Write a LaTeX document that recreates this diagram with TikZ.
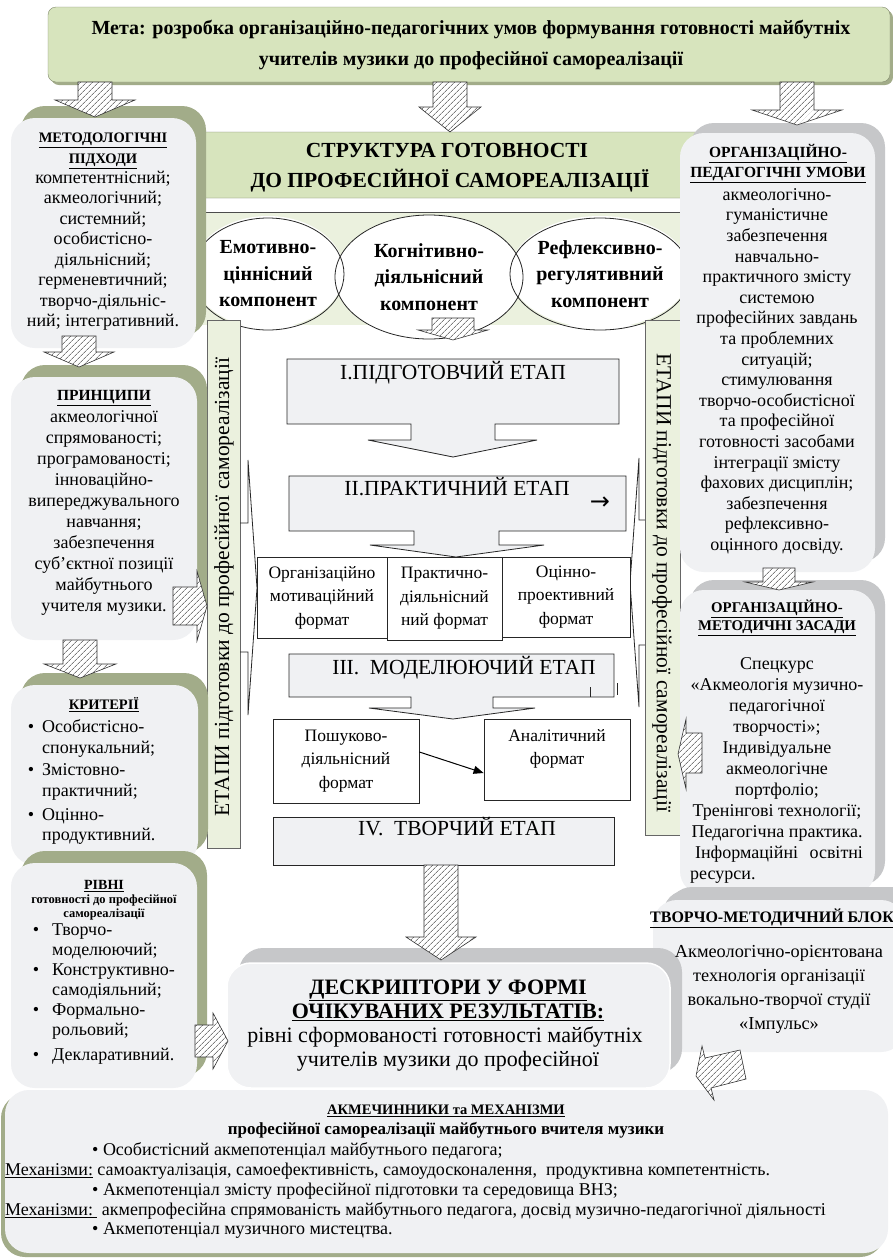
\documentclass[tikz,border=0pt]{standalone}
\usepackage{fontspec}
\setmainfont{Liberation Serif}
\newfontfamily\symfont{DejaVu Sans}
\usetikzlibrary{positioning,shapes.geometric,shadows,patterns.meta,arrows.meta}

\definecolor{metagreen}{HTML}{D7E4BD}
\definecolor{panelgreen}{HTML}{EBF1DE}
\definecolor{boxgray}{HTML}{F0F1F3}
\definecolor{olivesh}{HTML}{A2AC89}
\definecolor{graysh}{HTML}{C6C7C9}

\begin{document}
\begin{tikzpicture}[x=1pt, y=-1pt,
        txt/.style={font=\fontsize{18}{20.5}\selectfont, anchor=mid, inner sep=0pt},
        ttl/.style={font=\bfseries\fontsize{14.5}{16}\selectfont, anchor=mid, inner sep=0pt},
        stagetxt/.style={font=\fontsize{21.5}{24}\selectfont, anchor=mid, inner sep=0pt},
        bottxt/.style={font=\fontsize{18}{19}\selectfont, anchor=mid west, inner sep=0pt},
        leftbox/.style={rounded corners=24pt, fill=boxgray, inner sep=0pt,
            general shadow={fill=olivesh, shadow xshift=10pt, shadow yshift=12pt}},
        rightbox/.style={rounded corners=24pt, fill=boxgray, inner sep=0pt,
            general shadow={fill=graysh, shadow xshift=10pt, shadow yshift=10pt}},
        stagebox/.style={draw=black!85, fill=boxgray, line width=0.8pt},
        fmtbox/.style={draw=black!85, fill=white, line width=0.8pt, inner sep=0pt, align=center,
            font=\fontsize{17.5}{23.5}\selectfont},
        bar/.style={draw=black!60, fill=panelgreen, line width=0.8pt, inner sep=0pt},
        comp/.style={ellipse, draw=black!85, line width=0.8pt, align=center, inner sep=0pt,
            font=\bfseries\fontsize{20}{26.5}\selectfont},
        hatch/.style={draw=black!80, line width=0.6pt, preaction={fill=white},
            pattern={Lines[angle=45,distance=4pt,line width=0.5pt]}, pattern color=black!80},
    ]

    \useasboundingbox[fill=white] (0,0) rectangle (893,1259);

    % Goal
    \node[draw=olivesh!80!black, fill=metagreen, rounded corners=8pt, inner sep=0pt,
        minimum width=842pt, minimum height=75pt,
        general shadow={fill=olivesh, shadow xshift=3pt, shadow yshift=-3pt}] (meta) at (469,44.5) {};
    \node[font=\bfseries\fontsize{20}{22}\selectfont, anchor=mid, inner sep=0pt] (meta-1) at (471,32)
        {Мета: розробка організаційно-педагогічних умов формування готовності майбутніх};
    \node[font=\bfseries\fontsize{20}{22}\selectfont, anchor=mid, inner sep=0pt] (meta-2) at (471,63)
        {учителів музики до професійної самореалізації};

    % Structure of readiness
    \node[draw=olivesh!70!black, fill=metagreen, rounded corners=5pt, inner sep=0pt,
        minimum width=512pt, minimum height=66pt] (struct) at (450,165) {};
    \node[font=\bfseries\fontsize{21.5}{24}\selectfont, anchor=mid, inner sep=0pt] (struct-1) at (447,155) {СТРУКТУРА ГОТОВНОСТІ};
    \node[font=\bfseries\fontsize{21.5}{24}\selectfont, anchor=mid, inner sep=0pt] (struct-2) at (450,185) {ДО ПРОФЕСІЙНОЇ САМОРЕАЛІЗАЦІЇ};
    \node[fill=panelgreen, inner sep=0pt, minimum width=486pt, minimum height=112pt] (panel) at (437,269) {};
    \draw[black!70, line width=0.8pt] (panel.north west) -- (panel.north east);

    % Components
    \foreach \x/\y/\a/\b in {268/272/76/56, 429/277/94/62, 600/272/90/56}
    \fill[white] (\x,\y) ellipse [x radius=\a pt, y radius=\b pt];
    \node[comp, minimum width=152pt, minimum height=112pt] (emo) at (268,274) {Емотивно-\\ціннісний\\компонент};
    \node[comp, minimum width=188pt, minimum height=124pt] (kog) at (429,277) {Когнітивно-\\діяльнісний\\компонент};
    \node[comp, minimum width=180pt, minimum height=112pt] (ref) at (600,274) {Рефлексивно-\\регулятивний\\компонент};

    % Stage bars
    \node[bar, minimum width=33pt, minimum height=528pt] (barL) at (223.5,584) {};
    \node[bar, minimum width=35pt, minimum height=515pt] (barR) at (662.5,577.5) {};
    \node[rotate=90, inner sep=0pt, font=\fontsize{21.5}{22}\selectfont] (barL-t) at (224,587)
        {ЕТАПИ підготовки до професійної самореалізації};
    \node[rotate=-90, inner sep=0pt, font=\fontsize{21.5}{22}\selectfont] (barR-t) at (662,583)
        {ЕТАПИ підготовки до професійної самореалізації};
    \draw[black!85, line width=0.8pt] (240,523) -- (248,523) -- (248,460) -- (257,588) -- (248,715) -- (248,652) -- (240,652);
    \draw[black!85, line width=0.8pt] (645,520) -- (639,520) -- (639,458) -- (630,583) -- (639,707) -- (639,645) -- (645,645);

    % Stages
    \foreach \L/\R/\T/\B/\sL/\sR/\hb/\hL/\hR/\tx/\ty in {
        287/619/359/424/411/495/440/368/537/453/457,
        289/626/476/531/414/499/545/370/544/456/557,
        289/614/654/697/411/493/708/369/535/453/719}
    \path[stagebox] (\L,\T) -- (\R,\T) -- (\R,\B) -- (\sR,\B) -- (\sR,\hb) -- (\hR,\hb) -- (\tx,\ty)
        -- (\hL,\hb) -- (\sL,\hb) -- (\sL,\B) -- (\L,\B) -- cycle;
    \node[stagetxt] (etap1) at (453,377) {І.ПІДГОТОВЧИЙ ЕТАП};
    \node[stagetxt] (etap2) at (457,493) {ІІ.ПРАКТИЧНИЙ ЕТАП};
    \node[inner sep=0pt, font=\symfont\fontsize{24}{24}\selectfont] (etap2-arr) at (600,503) {→};
    \node[stagetxt] (etap3) at (464,672) {ІІІ.\ \ МОДЕЛЮЮЧИЙ ЕТАП};
    \draw[black!85, line width=0.8pt] (590,687) -- (590,697);
    \draw[black!85, line width=0.8pt] (617,683) -- (617,695);
    \node[stagebox, inner sep=0pt, minimum width=341pt, minimum height=48pt] (etap4) at (443.5,841) {};
    \node[stagetxt] (etap4-t) at (457,833) {IV.\ \ ТВОРЧИЙ ЕТАП};

    % Formats
    \node[fmtbox, minimum width=130pt, minimum height=81pt] (fmt1) at (322,597.5) {Організаційно\\мотиваційний\\формат};
    \node[fmtbox, minimum width=115pt, minimum height=83pt] (fmt2) at (444.5,598.5) {Практично-\\діяльнісний\\ний формат};
    \node[fmtbox, minimum width=128pt, minimum height=80pt] (fmt3) at (566,597) {Оцінно-\\проективний\\формат};
    \node[fmtbox, minimum width=146pt, minimum height=84pt] (poshuk) at (346,761) {Пошуково-\\діяльнісний\\формат};
    \node[fmtbox, minimum width=146pt, minimum height=81pt] (analit) at (557,759.5) {};
    \node[inner sep=0pt, align=center, font=\fontsize{17.5}{23.5}\selectfont] (analit-t) at (557,749) {Аналітичний\\формат};
    \draw[-{Triangle[length=10pt,width=8pt]}, line width=1pt] ([yshift=9pt]poshuk.east) -- ([yshift=-13.5pt]analit.west);

    % Left column
    \node[leftbox, minimum width=185pt, minimum height=230pt] (pidh) at (103.5,233) {};
    \node[leftbox, minimum width=186pt, minimum height=263pt] (pryn) at (104,508.5) {};
    \node[leftbox, minimum width=187pt, minimum height=180pt] (kryt) at (104.5,775) {};
    \node[leftbox, minimum width=186pt, minimum height=225pt] (rivni) at (104,975.5) {};

    \node[ttl] (pidh-t1) at (103,140) {\underline{МЕТОДОЛОГІЧНІ}};
    \node[ttl] (pidh-t2) at (103,161) {\underline{ПІДХОДИ}};
    \foreach \t [count=\i from 0] in {компетентнісний;, акмеологічний;, системний;, особистісно-,
        діяльнісний;, герменевтичний;, творчо-діяльніс-, {ний; інтегративний.}}
    \node[txt] (pidh-\i) at (103,181+20.5*\i) {\t};

    \node[ttl, font=\bfseries\fontsize{15.5}{16}\selectfont] (pryn-t) at (104,398) {\underline{ПРИНЦИПИ}};
    \foreach \t [count=\i from 0] in {акмеологічної, спрямованості;, програмованості;, інноваційно-,
        випереджувального, навчання;, забезпечення, суб’єктної позиції, майбутнього, учителя музики.}
    \node[txt] (pryn-\i) at (104,420+21*\i) {\t};

    \node[ttl] (kryt-t) at (104,707) {\underline{КРИТЕРІЇ}};
    \foreach \t/\y [count=\i] in {Особистісно-/730, спонукальний;/751, Змістовно-/773,
        практичний;/794, Оцінно-/818, продуктивний./838}
    \node[txt, anchor=mid west] (kryt-\i) at (42,\y) {\t};
    \foreach \y [count=\i] in {730,773,818}
    \node[txt] (kryt-b\i) at (31,\y) {•};

    \node[ttl, font=\bfseries\fontsize{14}{16}\selectfont] (rivni-t) at (104,887) {\underline{РІВНІ}};
    \node[ttl, font=\bfseries\fontsize{12.5}{14}\selectfont] (rivni-t2) at (104,901) {готовності до професійної};
    \node[ttl, font=\bfseries\fontsize{12.5}{14}\selectfont] (rivni-t3) at (104,915) {самореалізації};
    \foreach \t/\y [count=\i] in {Творчо-/933, моделюючий;/953, Конструктивно-/973,
        самодіяльний;/993, Формально-/1013, рольовий;/1033, Декларативний./1058}
    \node[txt, anchor=mid west] (rivni-\i) at (52,\y) {\t};
    \foreach \y [count=\i] in {933,973,1013,1058}
    \node[txt] (rivni-b\i) at (36,\y) {•};

    % Right column
    \node[rightbox, minimum width=195pt, minimum height=439pt] (umovy) at (777.5,352.5) {};
    \node[rightbox, minimum width=195pt, minimum height=305pt] (zasady) at (777.5,742.5) {};
    \node[rightbox, minimum width=252pt, minimum height=152pt,
        general shadow={fill=graysh, shadow xshift=15pt, shadow yshift=13pt}] (blok) at (779,976) {};

    \node[ttl, font=\bfseries\fontsize{15.5}{16}\selectfont] (umovy-t1) at (778,155) {\underline{ОРГАНІЗАЦІЙНО-}};
    \node[ttl, font=\bfseries\fontsize{15.5}{16}\selectfont] (umovy-t2) at (778,175) {\underline{ПЕДАГОГІЧНІ УМОВИ}};
    \foreach \t [count=\i from 0] in {акмеологічно-, гуманістичне, забезпечення, навчально-,
        практичного змісту, системою, професійних завдань, та проблемних, ситуацій;, стимулювання,
        творчо-особистісної, та професійної, готовності засобами, інтеграції змісту,
        фахових дисциплін;, забезпечення, рефлексивно-, оцінного досвіду.}
    \node[txt] (umovy-\i) at (777,198+20.6*\i) {\t};

    \node[ttl, font=\bfseries\fontsize{14.8}{16}\selectfont] (zasady-t1) at (777,610) {\underline{ОРГАНІЗАЦІЙНО-}};
    \node[ttl, font=\bfseries\fontsize{14.8}{16}\selectfont] (zasady-t2) at (777,628) {\underline{МЕТОДИЧНІ ЗАСАДИ}};
    \foreach \t [count=\i from 0] in {Спецкурс, «Акмеологія музично-, педагогічної, творчості»;,
        Індивідуальне, акмеологічне, портфоліо;, Тренінгові технології;, Педагогічна практика.}
    \node[txt] (zasady-\i) at (777,667+21*\i) {\t};
    \node[txt] (zasady-9) at (779,856) {\makebox[168pt][s]{Інформаційні освітні}};
    \node[txt, anchor=mid west] (zasady-10) at (690,877) {ресурси.};

    % Descriptors
    \node[rounded corners=24pt, fill=boxgray, draw=white, line width=1.5pt, inner sep=0pt,
        minimum width=443pt, minimum height=125pt,
        general shadow={fill=graysh, shadow xshift=12pt, shadow yshift=15pt}] (deskr) at (448.5,1025.5) {};
    \node[font=\bfseries\fontsize{22}{24}\selectfont, anchor=mid, inner sep=0pt] (deskr-1) at (448,992) {\underline{ДЕСКРИПТОРИ У ФОРМІ}};
    \node[font=\bfseries\fontsize{22}{24}\selectfont, anchor=mid, inner sep=0pt] (deskr-2) at (448,1016) {\underline{ОЧІКУВАНИХ РЕЗУЛЬТАТІВ:}};
    \node[font=\fontsize{22}{24}\selectfont, anchor=mid, inner sep=0pt] (deskr-3) at (445,1040) {рівні сформованості готовності майбутніх};
    \node[font=\fontsize{22}{24}\selectfont, anchor=mid, inner sep=0pt] (deskr-4) at (448,1064) {учителів музики до професійної};

    \node[ttl, anchor=mid west, font=\bfseries\fontsize{16}{16}\selectfont] (blok-t) at (650,920) {\underline{ТВОРЧО-МЕТОДИЧНИЙ БЛОК}};
    \foreach \t [count=\i from 0] in {Акмеологічно-орієнтована, технологія організації,
        вокально-творчої студії, «Імпульс»}
    \node[txt, font=\fontsize{18.3}{20}\selectfont] (blok-\i) at (779,955+24*\i) {\t};

    % Acme factors
    \node[rounded corners=24pt, fill=boxgray, inner sep=0pt, minimum width=883pt, minimum height=163pt,
        general shadow={fill=olivesh, shadow xshift=-4pt, shadow yshift=-4pt}] (akme) at (446.5,1171.5) {};
    \node[ttl, font=\bfseries\fontsize{14.5}{16}\selectfont] (akme-t1) at (446,1112) {\underline{АКМЕЧИННИКИ та МЕХАНІЗМИ}};
    \node[ttl, font=\bfseries\fontsize{17}{18}\selectfont] (akme-t2) at (446,1132) {професійної самореалізації майбутнього вчителя музики};
    \node[bottxt] (akme-1) at (92,1153) {• Особистісний акмепотенціал майбутнього педагога;};
    \node[bottxt] (akme-2) at (5,1173) {\underline{Механізми:} самоактуалізація, самоефективність, самоудосконалення,\ \ продуктивна компетентність.};
    \node[bottxt] (akme-3) at (92,1193) {• Акмепотенціал змісту професійної підготовки та середовища ВНЗ;};
    \node[bottxt] (akme-4) at (5,1213) {\underline{Механізми:\ }\ акмепрофесійна спрямованість майбутнього педагога, досвід музично-педагогічної діяльності};
    \node[bottxt] (akme-5) at (92,1232) {• Акмепотенціал музичного мистецтва.};

    % Hatched arrows down
    \foreach \x/\t/\s/\h/\b/\p in {95/82/17/40/100/117, 450/82/17/31/107/132, 797/82/17/45/110/125,
        453/318/21/35/330/340, 79/336/17/35/352/367, 80/640/17/36/664/678,
        779/568/16/34/582/590, 441/865/17/35/937/960}
    \path[hatch] (\x-\s,\t) -- (\x+\s,\t) -- (\x+\s,\b) -- (\x+\h,\b) -- (\x,\p)
        -- (\x-\h,\b) -- (\x-\s,\b) -- cycle;

    % Hatched arrows right
    \foreach \l/\y/\s/\h/\b/\p in {173/606/19/35/197/207, 195/1041/16/28/213/228}
    \path[hatch] (\l,\y-\s) -- (\b,\y-\s) -- (\b,\y-\h) -- (\p,\y) -- (\b,\y+\h)
        -- (\b,\y+\s) -- (\l,\y+\s) -- cycle;

    % Hatched arrows left
    \path[hatch] (702,733) -- (686,733) -- (686,719) -- (678,754) -- (686,789) -- (686,773) -- (702,773) -- cycle;
    \path[hatch] (696,1076) -- (702,1046) -- (705,1058) -- (740,1050) -- (746,1079) -- (711,1088) -- (714,1100) -- cycle;

\end{tikzpicture}
\end{document}
